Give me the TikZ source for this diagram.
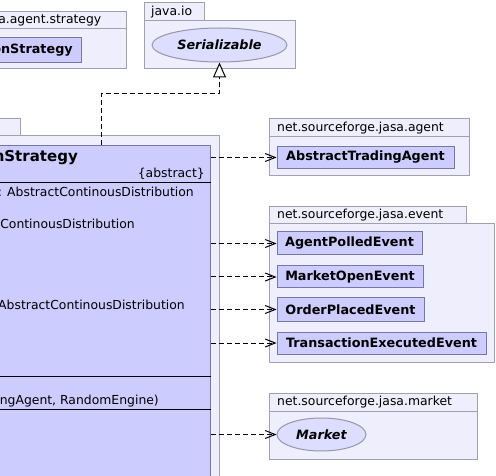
\documentclass[tikz,border=0pt]{standalone}
\usepackage{fontspec}
\setmainfont{DejaVu Sans}
\usetikzlibrary{arrows.meta,shapes.geometric}
\definecolor{pkgfill}{RGB}{238,238,252}
\definecolor{pkgdraw}{RGB}{160,160,176}
\definecolor{clsfill}{RGB}{204,204,255}
\definecolor{clsdraw}{RGB}{118,118,172}
\definecolor{ellfill}{RGB}{221,221,255}
\definecolor{elldraw}{RGB}{150,150,172}
\newcommand\nfont{\fontsize{12.4}{14}\selectfont}
\newcommand\bfont{\fontsize{12.8}{14}\selectfont\bfseries}
\newcommand\ifont{\fontsize{12.8}{14}\selectfont\bfseries\itshape}
\newcommand\tfont{\fontsize{15}{17}\selectfont\bfseries}
\begin{document}
\begin{tikzpicture}[x=1pt,y=-1pt,
  pkg/.style={draw=pkgdraw,fill=pkgfill,line width=1pt},
  cls/.style={draw=clsdraw,fill=clsfill,line width=1pt,font=\bfont,inner sep=0pt},
  ell/.style={ellipse,draw=elldraw,fill=ellfill,line width=1pt,font=\ifont,inner sep=0pt},
  lbl/.style={inner sep=0pt,font=\nfont},
  sepline/.style={draw=black,line width=1pt},
  dep/.style={dash pattern=on 5pt off 3pt,line width=1pt,-{Straight Barb[length=10pt,width=8pt]}},
  inh/.style={dash pattern=on 5pt off 3pt,line width=1pt,-{Triangle[open,length=15pt,width=13pt,fill=white]}}]
\clip (0,0) rectangle (496,476);
\fill[white] (0,0) rectangle (496,476);
% top-left package
\draw[pkg] (-10,12) rectangle (126,29);
\draw[pkg] (-10,29) rectangle (126,69);
\node[lbl,anchor=base east] (p1t) at (101.5,24) {a.agent.strategy};
\node[cls,anchor=north east,minimum width=92pt,minimum height=25pt] (os) at (82,37) {};
\node[inner sep=0pt,font=\bfont,anchor=base east] (ost) at (73,54) {onStrategy};
% java.io
\draw[pkg] (144,3) rectangle (204,21);
\draw[pkg] (144,21) rectangle (295,69);
\node[lbl,anchor=base west] (p2t) at (151,15.5) {java.io};
\node[ell,minimum width=135pt,minimum height=34pt] (ser) at (219.5,45) {Serializable};
% main package
\draw[pkg] (-10,119) rectangle (20.7,136);
\draw[pkg] (-10,136) rectangle (219,490);
\node[draw=clsdraw,fill=clsfill,line width=1pt,anchor=north east,minimum width=430pt,minimum height=360pt,inner sep=0pt] (strat) at (211,145) {};
\node[inner sep=0pt,font=\tfont,anchor=base east] (st) at (78,162) {nStrategy};
\node[lbl,anchor=base east] (abs) at (205,178) {\{abstract\}};
\draw[sepline] (-10,183) -- (211,183);
\node[lbl,anchor=base east] (a1) at (194,197) {: AbstractContinousDistribution};
\node[lbl,anchor=base east] (a2) at (135,229) {ContinousDistribution};
\node[lbl,anchor=base east] (a3) at (185,309) {AbstractContinousDistribution};
\draw[sepline] (-10,376) -- (211,376);
\node[lbl,anchor=base east] (m1) at (159,404) {ngAgent, RandomEngine)};
\draw[sepline] (-10,409) -- (211,409);
% agent package
\draw[pkg] (269,119) rectangle (469,137);
\draw[pkg] (269,137) rectangle (469,176);
\node[lbl,anchor=base west] (p3t) at (277,131.5) {net.sourceforge.jasa.agent};
\node[cls,minimum width=177pt,minimum height=22pt] (ata) at (365.5,157.5) {AbstractTradingAgent};
% event package
\draw[pkg] (269,207) rectangle (466,224);
\draw[pkg] (269,224) rectangle (494,362);
\node[lbl,anchor=base west] (p4t) at (277,219) {net.sourceforge.jasa.event};
\node[cls,minimum width=145pt,minimum height=23pt] (ape) at (349.5,243.5) {AgentPolledEvent};
\node[cls,minimum width=146pt,minimum height=22pt] (moe) at (350,277) {MarketOpenEvent};
\node[cls,minimum width=147pt,minimum height=23pt] (ope) at (350.5,309.5) {OrderPlacedEvent};
\node[cls,minimum width=209pt,minimum height=22pt] (tee) at (381.5,343) {TransactionExecutedEvent};
% market package
\draw[pkg] (269,393) rectangle (477,411);
\draw[pkg] (269,411) rectangle (477,459);
\node[lbl,anchor=base west] (p5t) at (277,405.5) {net.sourceforge.jasa.market};
\node[ell,minimum width=89pt,minimum height=33pt] (mkt) at (321.5,434.5) {Market};
% connectors
\coordinate (b1) at (101,145);
\draw[inh] (b1) -- (101,94) -| (ser.south);
\draw[dep] (strat.east |- ata.west) -- (ata.west);
\draw[dep] (strat.east |- ape.west) -- (ape.west);
\draw[dep] (strat.east |- moe.west) -- (moe.west);
\draw[dep] (strat.east |- ope.west) -- (ope.west);
\draw[dep] (strat.east |- tee.west) -- (tee.west);
\draw[dep] (strat.east |- mkt.west) -- (mkt.west);
\end{tikzpicture}
\end{document}
